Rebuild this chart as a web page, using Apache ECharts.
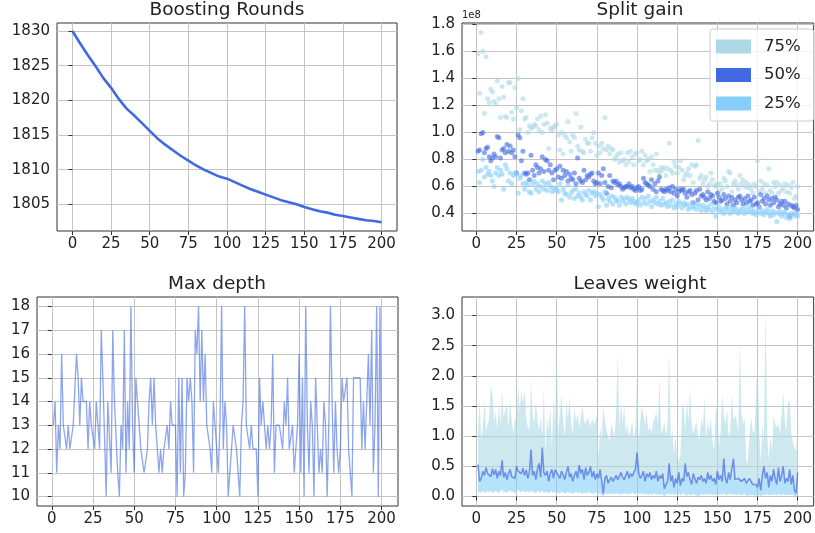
<!DOCTYPE html>
<html>
<head>
<meta charset="utf-8">
<script src="https://cdn.jsdelivr.net/npm/echarts@6/dist/echarts.min.js"></script>
<style>
  html, body { margin: 0; padding: 0; background: #fff; }
  #chart { width: 815px; height: 533px; }
</style>
</head>
<body>
<div id="chart"></div>
<script>
// boosting rounds (loss read every 5 rounds)
var boostX = [0, 5, 10, 15, 20, 25, 30, 35, 40, 45, 50, 55, 60, 65, 70, 75, 80, 85, 90, 95, 100,
  105, 110, 115, 120, 125, 130, 135, 140, 145, 150, 155, 160, 165, 170, 175, 180, 185, 190, 195, 200];
var boostY = [1830.0, 1828.2, 1826.5, 1824.9, 1823.2, 1821.8, 1820.2, 1818.8, 1817.8, 1816.7, 1815.6,
  1814.5, 1813.6, 1812.8, 1812.0, 1811.3, 1810.6, 1810.0, 1809.5, 1809.0, 1808.7,
  1808.2, 1807.7, 1807.2, 1806.8, 1806.4, 1806.0, 1805.6, 1805.3, 1805.0, 1804.6,
  1804.3, 1804.0, 1803.8, 1803.5, 1803.3, 1803.1, 1802.9, 1802.7, 1802.6, 1802.4];

// split gain quantiles, in units of 1e8
var gain75 = [1.58, 1.29, 1.74, 1.60, 1.14, 1.56, 1.25, 1.22, 1.32, 1.30,
  1.23, 1.21, 1.38, 1.25, 1.11, 1.34, 1.26, 1.12, 1.11, 1.37,
  1.37, 1.15, 1.10, 1.33, 1.18, 1.40, 1.02, 1.16, 1.25, 1.10,
  1.11, 1.00, 1.05, 1.03, 1.04, 1.06, 1.05, 1.10, 1.02, 1.12,
  1.00, 1.06, 1.13, 1.07, 0.88, 1.03, 1.02, 1.04, 1.05, 1.06,
  0.98, 0.87, 1.00, 0.84, 0.98, 0.96, 1.08, 0.93, 0.86, 0.98,
  0.96, 1.14, 0.90, 0.87, 1.04, 0.86, 0.85, 0.95, 0.92, 0.92,
  0.86, 0.96, 1.00, 0.92, 0.83, 0.90, 0.85, 0.92, 0.88, 1.11,
  0.87, 0.90, 0.84, 0.88, 0.87, 0.80, 0.82, 0.84, 0.78, 0.85,
  0.79, 0.80, 0.76, 0.85, 0.78, 0.86, 0.82, 0.76, 0.84, 0.85,
  0.79, 0.80, 0.86, 0.76, 0.83, 0.79, 0.80, 0.71, 0.82, 0.76,
  0.72, 0.84, 0.72, 0.70, 0.74, 0.72, 0.74, 0.68, 0.73, 0.92,
  0.72, 0.70, 0.78, 0.75, 0.70, 0.74, 0.79, 0.72, 0.65, 0.68,
  0.70, 0.73, 0.68, 0.76, 0.63, 0.75, 0.76, 0.94, 0.66, 0.68,
  0.62, 0.65, 0.67, 0.60, 0.62, 0.70, 0.65, 0.61, 0.60, 0.62,
  0.56, 0.62, 0.58, 0.66, 0.64, 0.60, 0.71, 0.70, 0.56, 0.62,
  0.64, 0.61, 0.58, 0.68, 0.62, 0.65, 0.60, 0.63, 0.59, 0.61,
  0.58, 0.55, 0.62, 0.60, 0.79, 0.56, 0.64, 0.58, 0.62, 0.55,
  0.61, 0.73, 0.57, 0.55, 0.63, 0.60, 0.63, 0.55, 0.61, 0.57,
  0.59, 0.62, 0.56, 0.61, 0.55, 0.59, 0.63, 0.51, 0.53, 0.60];
var gain50 = [0.86, 0.87, 0.99, 1.00, 0.85, 0.88, 0.89, 0.82, 0.79, 0.81,
  0.84, 0.82, 0.97, 0.96, 0.81, 0.87, 0.88, 0.85, 0.91, 0.86,
  0.90, 0.85, 0.87, 0.82, 0.70, 0.98, 0.96, 0.79, 0.86, 0.70,
  0.69, 0.70, 0.65, 0.83, 0.72, 0.68, 0.76, 0.74, 0.70, 0.73,
  0.82, 0.71, 0.80, 0.79, 0.72, 0.76, 0.70, 0.65, 0.72, 0.73,
  0.67, 0.75, 0.66, 0.72, 0.68, 0.71, 0.64, 0.69, 0.66, 0.65,
  0.70, 0.62, 0.81, 0.66, 0.64, 0.63, 0.72, 0.65, 0.68, 0.67,
  0.69, 0.70, 0.64, 0.62, 0.63, 0.70, 0.62, 0.68, 0.73, 0.63,
  0.55, 0.60, 0.68, 0.59, 0.64, 0.63, 0.64, 0.61, 0.62, 0.60,
  0.58, 0.59, 0.60, 0.60, 0.62, 0.59, 0.60, 0.58, 0.57, 0.59,
  0.60, 0.57, 0.58, 0.66, 0.63, 0.62, 0.61, 0.60, 0.65, 0.58,
  0.62, 0.56, 0.64, 0.67, 0.58, 0.57, 0.56, 0.58, 0.57, 0.59,
  0.56, 0.60, 0.55, 0.58, 0.53, 0.56, 0.58, 0.57, 0.58, 0.55,
  0.52, 0.56, 0.57, 0.54, 0.48, 0.55, 0.57, 0.50, 0.58, 0.53,
  0.54, 0.52, 0.50, 0.56, 0.51, 0.54, 0.53, 0.49, 0.48, 0.55,
  0.52, 0.49, 0.50, 0.54, 0.51, 0.47, 0.53, 0.49, 0.52, 0.46,
  0.50, 0.48, 0.52, 0.53, 0.50, 0.47, 0.51, 0.48, 0.53, 0.49,
  0.50, 0.46, 0.52, 0.47, 0.48, 0.45, 0.54, 0.49, 0.51, 0.47,
  0.53, 0.50, 0.46, 0.51, 0.48, 0.52, 0.50, 0.45, 0.47, 0.49,
  0.46, 0.49, 0.44, 0.47, 0.38, 0.46, 0.45, 0.44, 0.46, 0.43];
var gain25 = [0.71, 0.63, 0.72, 0.80, 0.67, 0.74, 0.69, 0.71, 0.68, 0.64,
  0.60, 0.70, 0.74, 0.68, 0.72, 0.69, 0.58, 0.76, 0.73, 0.64,
  0.70, 0.62, 0.68, 0.70, 0.69, 0.55, 0.66, 0.68, 0.62, 0.58,
  0.63, 0.61, 0.56, 0.55, 0.62, 0.64, 0.58, 0.62, 0.56, 0.60,
  0.64, 0.58, 0.62, 0.57, 0.63, 0.60, 0.56, 0.59, 0.57, 0.58,
  0.56, 0.62, 0.50, 0.58, 0.55, 0.54, 0.61, 0.52, 0.55, 0.57,
  0.51, 0.58, 0.53, 0.55, 0.52, 0.50, 0.56, 0.54, 0.53, 0.57,
  0.50, 0.55, 0.56, 0.53, 0.55, 0.45, 0.54, 0.52, 0.50, 0.56,
  0.46, 0.51, 0.49, 0.53, 0.47, 0.52, 0.50, 0.49, 0.46, 0.52,
  0.49, 0.51, 0.47, 0.52, 0.50, 0.48, 0.51, 0.49, 0.47, 0.48,
  0.50, 0.46, 0.52, 0.48, 0.51, 0.47, 0.53, 0.49, 0.45, 0.50,
  0.48, 0.52, 0.47, 0.49, 0.46, 0.51, 0.47, 0.48, 0.45, 0.49,
  0.46, 0.50, 0.44, 0.47, 0.45, 0.49, 0.47, 0.44, 0.48, 0.46,
  0.47, 0.43, 0.45, 0.48, 0.44, 0.46, 0.43, 0.47, 0.45, 0.42,
  0.46, 0.44, 0.42, 0.45, 0.43, 0.47, 0.41, 0.44, 0.38, 0.43,
  0.45, 0.41, 0.43, 0.40, 0.44, 0.42, 0.45, 0.40, 0.43, 0.41,
  0.44, 0.42, 0.40, 0.43, 0.41, 0.44, 0.40, 0.42, 0.45, 0.41,
  0.43, 0.40, 0.42, 0.39, 0.41, 0.44, 0.40, 0.42, 0.39, 0.41,
  0.43, 0.40, 0.38, 0.42, 0.39, 0.41, 0.34, 0.40, 0.42, 0.38,
  0.40, 0.41, 0.37, 0.39, 0.36, 0.40, 0.38, 0.40, 0.39, 0.38];

// max depth per round
var maxDepth = [13, 14, 11, 13, 12, 16, 13, 13, 12, 13,
  12, 12, 13, 13, 16, 15, 13, 15, 14, 14,
  14, 12, 14, 13, 13, 12, 14, 13, 12, 17,
  15, 15, 10, 14, 14, 11, 17, 14, 14, 11,
  10, 13, 12, 17, 11, 14, 12, 18, 13, 11,
  15, 14, 13, 12, 12, 11, 11, 12, 14, 15,
  13, 15, 13, 12, 11, 12, 11, 12, 12, 13,
  12, 14, 13, 13, 13, 10, 15, 11, 15, 10,
  11, 15, 14, 15, 14, 11, 17, 16, 18, 14,
  17, 14, 16, 13, 13, 12, 11, 14, 13, 13,
  11, 13, 18, 12, 14, 13, 10, 11, 12, 13,
  13, 12, 11, 10, 13, 14, 18, 13, 13, 12,
  13, 12, 12, 12, 10, 15, 13, 14, 13, 12,
  13, 12, 13, 16, 11, 13, 13, 13, 13, 12,
  14, 13, 15, 12, 12, 13, 11, 12, 13, 16,
  11, 15, 10, 18, 13, 11, 14, 13, 10, 15,
  13, 11, 12, 11, 14, 13, 10, 13, 18, 14,
  11, 14, 12, 11, 12, 15, 14, 14, 15, 12,
  12, 10, 15, 15, 15, 15, 15, 12, 14, 12,
  14, 16, 13, 17, 11, 13, 18, 10, 18, 12];

// leaves weight quantiles
var leafHi = [1.05, 1.60, 0.95, 1.15, 1.60, 1.10, 1.20, 1.30, 1.85, 1.70,
  1.25, 1.40, 1.10, 1.55, 1.20, 1.75, 1.30, 1.45, 1.50, 1.15,
  1.60, 1.25, 1.05, 1.30, 1.20, 1.85, 1.40, 1.75, 1.55, 1.75,
  1.30, 1.15, 1.10, 1.90, 1.35, 1.20, 1.60, 1.25, 1.10, 1.30,
  1.00, 1.80, 0.70, 1.30, 1.10, 1.50, 0.80, 1.65, 1.20, 2.45,
  1.10, 1.40, 1.70, 1.25, 1.00, 1.55, 1.30, 1.65, 1.20, 1.05,
  1.45, 1.25, 1.35, 1.15, 1.30, 1.50, 1.25, 1.20, 1.30, 1.25,
  1.15, 1.30, 1.20, 1.25, 1.35, 0.65, 1.15, 0.95, 1.50, 1.25,
  1.10, 1.00, 0.90, 1.20, 1.10, 1.00, 1.40, 2.35, 1.10, 1.55,
  1.20, 1.50, 1.05, 1.20, 1.00, 1.10, 1.25, 0.95, 1.15, 1.95,
  0.90, 1.25, 1.50, 1.35, 1.20, 1.40, 1.10, 1.15, 1.05, 1.25,
  1.30, 1.40, 1.20, 1.95, 1.05, 1.10, 1.25, 1.00, 1.20, 2.42,
  0.95, 1.10, 0.70, 1.05, 0.55, 0.60, 0.70, 1.45, 1.55, 1.10,
  1.60, 1.25, 1.80, 1.20, 1.05, 1.15, 1.25, 1.00, 0.95, 1.30,
  1.15, 1.65, 0.95, 1.25, 1.10, 1.30, 0.90, 0.75, 1.40, 1.55,
  0.85, 1.05, 1.70, 1.35, 1.20, 1.45, 1.00, 1.10, 1.72, 1.25,
  1.35, 1.25, 1.05, 2.55, 1.40, 1.20, 1.30, 0.55, 0.60, 1.00,
  1.30, 1.10, 1.05, 1.60, 2.30, 1.15, 0.55, 1.20, 0.90, 3.15,
  1.05, 0.60, 1.00, 0.75, 1.35, 1.20, 1.15, 1.20, 1.05, 1.35,
  1.75, 1.25, 1.10, 1.55, 1.60, 1.05, 0.90, 0.80, 0.75, 1.10];
var leafMid = [0.53, 0.25, 0.30, 0.42, 0.35, 0.48, 0.38, 0.40, 0.33, 0.46,
  0.36, 0.45, 0.30, 0.42, 0.35, 0.60, 0.32, 0.40, 0.28, 0.38,
  0.45, 0.33, 0.36, 0.30, 0.50, 0.42, 0.45, 0.38, 0.47, 0.35,
  0.44, 0.30, 0.40, 0.78, 0.35, 0.42, 0.28, 0.45, 0.55, 0.32,
  0.81, 0.40, 0.35, 0.42, 0.25, 0.38, 0.45, 0.30, 0.44, 0.46,
  0.35, 0.30, 0.42, 0.36, 0.28, 0.40, 0.50, 0.32, 0.38, 0.25,
  0.35, 0.42, 0.30, 0.52, 0.38, 0.45, 0.28, 0.48, 0.35, 0.40,
  0.50, 0.32, 0.42, 0.28, 0.38, 0.30, 0.45, 0.25, 0.05, 0.30,
  0.35, 0.22, 0.28, 0.32, 0.25, 0.30, 0.35, 0.28, 0.30, 0.40,
  0.32, 0.28, 0.35, 0.42, 0.30, 0.38, 0.33, 0.40, 0.45, 0.73,
  0.40, 0.30, 0.35, 0.42, 0.25, 0.38, 0.32, 0.40, 0.28, 0.35,
  0.30, 0.42, 0.25, 0.35, 0.30, 0.38, 0.13, 0.20, 0.25, 0.55,
  0.25, 0.35, 0.15, 0.30, 0.22, 0.40, 0.18, 0.30, 0.25, 0.55,
  0.33, 0.40, 0.28, 0.20, 0.38, 0.30, 0.22, 0.32, 0.28, 0.35,
  0.25, 0.30, 0.22, 0.40, 0.28, 0.35, 0.25, 0.30, 0.20, 0.42,
  0.28, 0.35, 0.25, 0.63, 0.30, 0.22, 0.40, 0.28, 0.25, 0.63,
  0.28, 0.25, 0.30, 0.32, 0.25, 0.28, 0.30, 0.22, 0.20, 0.30,
  0.25, 0.20, 0.18, 0.20, 0.15, 0.30, 0.10, 0.35, 0.50, 0.30,
  0.40, 0.15, 0.35, 0.25, 0.45, 0.30, 0.20, 0.48, 0.25, 0.35,
  0.50, 0.22, 0.30, 0.25, 0.45, 0.20, 0.35, 0.10, 0.05, 0.40];
var leafLo = [0.08, 0.07, 0.06, 0.09, 0.08, 0.05, 0.10, 0.07, 0.09, 0.06,
  0.08, 0.10, 0.07, 0.06, 0.09, 0.11, 0.07, 0.08, 0.06, 0.09,
  0.10, 0.07, 0.08, 0.06, 0.09, 0.12, 0.08, 0.07, 0.10, 0.08,
  0.07, 0.09, 0.06, 0.10, 0.08, 0.07, 0.05, 0.09, 0.08, 0.07,
  0.10, 0.06, 0.08, 0.07, 0.05, 0.08, 0.09, 0.06, 0.07, 0.08,
  0.06, 0.05, 0.08, 0.07, 0.04, 0.06, 0.08, 0.05, 0.07, 0.04,
  0.06, 0.08, 0.05, 0.07, 0.06, 0.04, 0.07, 0.05, 0.06, 0.08,
  0.05, 0.06, 0.04, 0.07, 0.05, 0.03, 0.06, 0.02, 0.01, 0.04,
  0.05, 0.03, 0.06, 0.04, 0.05, 0.03, 0.06, 0.04, 0.05, 0.03,
  0.05, 0.04, 0.06, 0.03, 0.05, 0.04, 0.06, 0.05, 0.03, 0.07,
  0.05, 0.04, 0.06, 0.03, 0.05, 0.04, 0.02, 0.05, 0.03, 0.04,
  0.05, 0.03, 0.04, 0.02, 0.05, 0.03, 0.01, 0.03, 0.05, 0.04,
  0.03, 0.05, 0.02, 0.04, 0.03, 0.05, 0.02, 0.04, 0.06, 0.03,
  0.01, 0.04, 0.03, 0.02, 0.04, 0.03, 0.02, 0.00, 0.03, 0.04,
  0.03, 0.04, 0.02, 0.05, 0.03, 0.04, 0.02, 0.03, 0.02, 0.05,
  0.03, 0.04, 0.02, 0.05, 0.03, 0.02, 0.04, 0.05, 0.03, 0.04,
  0.03, 0.02, 0.04, 0.03, 0.02, 0.03, 0.04, 0.02, 0.01, 0.03,
  0.02, 0.03, 0.01, 0.02, 0.01, 0.03, 0.01, 0.03, 0.02, 0.03,
  0.04, 0.02, 0.03, 0.02, 0.04, 0.03, 0.02, 0.04, 0.02, 0.03,
  0.04, 0.02, 0.03, 0.02, 0.03, 0.02, 0.03, 0.01, 0.01, 0.03];

var xTicks = [0, 25, 50, 75, 100, 125, 150, 175, 200];
var boostTicks = [1805, 1810, 1815, 1820, 1825, 1830];
var gainTicks = [0.4, 0.6, 0.8, 1.0, 1.2, 1.4, 1.6, 1.8];
var depthTicks = [10, 11, 12, 13, 14, 15, 16, 17, 18];
var leafTicks = [0, 0.5, 1.0, 1.5, 2.0, 2.5, 3.0];

var FONT = "DejaVu Sans";
var rounds = maxDepth.map(function (v, i) { return i + 1; });

function pairs(xs, ys) {
  return ys.map(function (v, i) { return [xs[i], v]; });
}

function xAxis(grid, min, max) {
  return {
    type: "value", gridIndex: grid, min: min, max: max,
    axisLine: { show: false },
    axisTick: { show: true, length: 4, customValues: xTicks, lineStyle: { color: "#333" } },
    axisLabel: {
      customValues: xTicks, margin: 6, fontSize: 15, color: "#222", fontFamily: FONT,
      formatter: function (v) { return String(v); }
    },
    splitLine: { show: true, lineStyle: { color: "#c4c4c4", width: 1 } }
  };
}
function yAxis(grid, min, max, ticks, fmt) {
  return {
    type: "value", gridIndex: grid, min: min, max: max,
    axisLine: { show: false },
    axisTick: { show: true, length: 4, customValues: ticks, lineStyle: { color: "#333" } },
    axisLabel: {
      customValues: ticks, margin: 7, fontSize: 15, color: "#222", fontFamily: FONT,
      formatter: fmt || function (v) { return String(v); }
    },
    splitLine: { show: true, lineStyle: { color: "#c4c4c4", width: 1 } }
  };
}
function title(text, x, y) {
  return {
    text: text, left: x, top: y, textAlign: "center", padding: 0,
    textStyle: { fontSize: 18.5, fontWeight: "normal", color: "#222", fontFamily: FONT }
  };
}
// filled band between two quantile curves, drawn as one polygon
function band(lo, hi, color) {
  return {
    type: "custom", xAxisIndex: 3, yAxisIndex: 3, silent: true,
    data: pairs(rounds, hi),
    renderItem: function (params, api) {
      if (params.dataIndex !== 0) return null;
      var pts = [];
      for (var i = 0; i < rounds.length; i++) pts.push(api.coord([rounds[i], hi[i]]));
      for (var j = rounds.length - 1; j >= 0; j--) pts.push(api.coord([rounds[j], lo[j]]));
      return { type: "polygon", shape: { points: pts }, style: { fill: color } };
    }
  };
}
var oneDec = function (v) { return v.toFixed(1); };
var gridBox = { show: true, borderColor: "#333", borderWidth: 1, backgroundColor: "transparent" };

var chart = echarts.init(document.getElementById("chart"));
var option = {
  animation: false,
  title: [
    title("Boosting Rounds", 227, 1),
    title("Split gain", 640, 1),
    title("Max depth", 217, 275),
    title("Leaves weight", 640, 275)
  ],
  grid: [
    Object.assign({ left: 57, top: 23, width: 340, height: 208 }, gridBox),
    Object.assign({ left: 462, top: 23, width: 356, height: 208 }, gridBox),
    Object.assign({ left: 37, top: 297, width: 361, height: 209 }, gridBox),
    Object.assign({ left: 462, top: 297, width: 356, height: 209 }, gridBox)
  ],
  xAxis: [
    xAxis(0, -10, 210),
    xAxis(1, -8.95, 209.95),
    xAxis(2, -8.95, 209.95),
    xAxis(3, -8.95, 209.95)
  ],
  yAxis: [
    yAxis(0, 1801.15, 1831.15, boostTicks),
    yAxis(1, 0.27, 1.81, gainTicks, oneDec),
    yAxis(2, 9.6, 18.4, depthTicks),
    yAxis(3, -0.1575, 3.3075, leafTicks, oneDec)
  ],
  legend: {
    data: [
      { name: "75%", itemStyle: { color: "#add8e6", opacity: 1 } },
      { name: "50%", itemStyle: { color: "#4169e1", opacity: 1 } },
      { name: "25%", itemStyle: { color: "#87cefa", opacity: 1 } }
    ],
    orient: "vertical", left: 710, top: 29,
    padding: [9, 13, 9, 6],
    itemWidth: 35, itemHeight: 14, itemGap: 11.5, icon: "rect",
    backgroundColor: "rgba(255,255,255,0.8)", borderColor: "#cccccc", borderWidth: 1, borderRadius: 3,
    selectedMode: false,
    textStyle: { fontSize: 16.5, color: "#222", fontFamily: FONT, lineHeight: 14, padding: [0, 0, 0, 8] }
  },
  graphic: [
    { type: "text", left: 462, top: 10, style: { text: "1e8", fontSize: 10, fill: "#222", fontFamily: FONT } }
  ],
  series: [
    {
      type: "line", xAxisIndex: 0, yAxisIndex: 0, data: pairs(boostX, boostY),
      showSymbol: false, lineStyle: { color: "#4169e1", width: 2.6 }, silent: true
    },
    {
      name: "75%", type: "scatter", xAxisIndex: 1, yAxisIndex: 1, data: pairs(rounds, gain75),
      symbolSize: 5, itemStyle: { color: "rgba(173,216,230,0.75)" }, silent: true
    },
    {
      name: "50%", type: "scatter", xAxisIndex: 1, yAxisIndex: 1, data: pairs(rounds, gain50),
      symbolSize: 5, itemStyle: { color: "rgba(65,105,225,0.75)" }, silent: true
    },
    {
      name: "25%", type: "scatter", xAxisIndex: 1, yAxisIndex: 1, data: pairs(rounds, gain25),
      symbolSize: 5, itemStyle: { color: "rgba(135,206,250,0.75)" }, silent: true
    },
    {
      type: "line", xAxisIndex: 2, yAxisIndex: 2, data: pairs(rounds, maxDepth),
      showSymbol: false, lineStyle: { color: "rgba(65,105,225,0.6)", width: 1.3 }, silent: true
    },
    band(leafLo, leafMid, "rgba(135,206,250,0.6)"),
    band(leafMid, leafHi, "rgba(173,216,230,0.6)"),
    {
      type: "line", xAxisIndex: 3, yAxisIndex: 3, data: pairs(rounds, leafMid),
      showSymbol: false, lineStyle: { color: "rgba(65,105,225,0.7)", width: 1.5 }, silent: true
    }
  ]
};
chart.setOption(option);
</script>
</body>
</html>
